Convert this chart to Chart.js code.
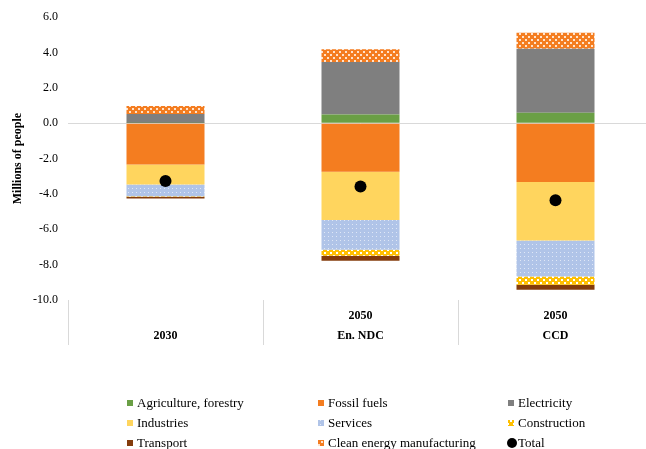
<!DOCTYPE html>
<html>
<head>
<meta charset="utf-8">
<script src="https://cdn.jsdelivr.net/npm/chart.js@4.4.1/dist/chart.umd.min.js"></script>
<style>
  html, body { margin: 0; padding: 0; background: #fff; overflow: hidden; }
</style>
</head>
<body>
<canvas id="chart" width="660" height="449"></canvas>
<script>
// categories (two-line labels, bottom aligned)
const categories = [["", "2030"], ["2050", "En. NDC"], ["2050", "CCD"]];

// millions of people per sector
const agriculture = [0.02, 0.5, 0.6];
const fossilFuels = [-2.33, -2.74, -3.33];
const electricity = [0.5, 2.97, 3.62];
const industries = [-1.14, -2.73, -3.31];
const services = [-0.66, -1.69, -2.03];
const construction = [-0.03, -0.34, -0.47];
const transport = [-0.1, -0.28, -0.28];
const cleanEnergy = [0.46, 0.72, 0.9];
const total = [-3.27, -3.58, -4.35];

const yMin = -10;
const yMax = 6;
const yStep = 2;

const serif = "'Liberation Serif', 'Times New Roman', serif";

// small tiled patterns like the excel fills
function makePattern(size, draw) {
  const c = document.createElement("canvas");
  c.width = size;
  c.height = size;
  const g = c.getContext("2d");
  draw(g);
  return g.createPattern(c, "repeat");
}

const servicesFill = makePattern(4, (g) => {
  g.fillStyle = "#B0C4E8";
  g.fillRect(0, 0, 4, 4);
  g.fillStyle = "rgba(255,255,255,0.6)";
  g.fillRect(0, 0, 1, 1);
});

const constructionFill = makePattern(6, (g) => {
  g.fillStyle = "#FFC000";
  g.fillRect(0, 0, 6, 6);
  g.fillStyle = "#fff";
  g.fillRect(0, 0, 2, 2);
  g.fillRect(3, 3, 2, 2);
});

const cleanFill = makePattern(6, (g) => {
  g.fillStyle = "#F47D20";
  g.fillRect(0, 0, 6, 6);
  g.fillStyle = "#FFE3CC";
  g.fillRect(0, 0, 2, 2);
  g.fillRect(3, 3, 2, 2);
});

function bar(label, data, color) {
  return { type: "bar", label, data, backgroundColor: color, borderWidth: 0 };
}

const datasets = [
  bar("Agriculture, forestry", agriculture, "#6A9F45"),
  bar("Fossil fuels", fossilFuels, "#F47D20"),
  bar("Electricity", electricity, "#7F7F7F"),
  bar("Industries", industries, "#FFD55E"),
  bar("Services", services, servicesFill),
  bar("Construction", construction, constructionFill),
  bar("Transport", transport, "#843C0C"),
  bar("Clean energy manufacturing", cleanEnergy, cleanFill),
  {
    type: "line",
    label: "Total",
    data: total,
    showLine: false,
    order: -1,
    pointRadius: 6,
    pointHoverRadius: 6,
    pointBackgroundColor: "#000",
    pointBorderColor: "#000",
    pointBorderWidth: 0,
  },
];

// legend in three fixed columns under the axis
const gridLegend = {
  id: "gridLegend",
  afterDraw(chart) {
    const ctx = chart.ctx;
    const colX = [137, 328, 518];
    const rowY = [403, 423, 443];
    ctx.save();
    ctx.font = "13px " + serif;
    ctx.textBaseline = "middle";
    ctx.fillStyle = "#000";
    chart.data.datasets.forEach((ds, i) => {
      const x = colX[i % 3];
      const y = rowY[Math.floor(i / 3)];
      if (ds.type === "line") {
        ctx.beginPath();
        ctx.arc(x - 6, y, 5, 0, Math.PI * 2);
        ctx.fillStyle = "#000";
        ctx.fill();
      } else {
        ctx.fillStyle = ds.backgroundColor;
        ctx.fillRect(x - 10, y - 3, 6, 6);
      }
      ctx.fillStyle = "#000";
      ctx.fillText(ds.label, x, y + 1);
    });
    ctx.restore();
  },
};

new Chart(document.getElementById("chart"), {
  data: { labels: categories, datasets },
  options: {
    responsive: false,
    animation: false,
    layout: { padding: { top: 17, right: 7, left: 0, bottom: 0 } },
    plugins: {
      legend: { display: false },
      tooltip: { enabled: false },
    },
    datasets: {
      bar: { categoryPercentage: 1, barPercentage: 0.4 },
    },
    scales: {
      x: {
        stacked: true,
        offset: true,
        border: { display: false },
        grid: {
          offset: true,
          drawOnChartArea: false,
          tickLength: 45,
          color: "#D9D9D9",
        },
        ticks: {
          autoSkip: false,
          maxRotation: 0,
          padding: -39,
          color: "#000",
          font: { family: serif, size: 12, weight: "bold", lineHeight: 1.65 },
        },
        afterFit(scale) {
          scale.height = 149;
        },
      },
      y: {
        stacked: true,
        min: yMin,
        max: yMax,
        border: { display: false },
        grid: {
          drawTicks: false,
          color: (c) => (c.tick && c.tick.value === 0 ? "#D9D9D9" : "rgba(0,0,0,0)"),
        },
        ticks: {
          stepSize: yStep,
          padding: 10,
          color: "#000",
          font: { family: serif, size: 12 },
          callback: (v) => v.toFixed(1),
        },
        title: {
          display: true,
          text: "Millions of people",
          color: "#000",
          padding: { top: 11, bottom: 0 },
          font: { family: serif, size: 12, weight: "bold" },
        },
        afterFit(scale) {
          scale.width = 68;
        },
      },
    },
  },
  plugins: [gridLegend],
});
</script>
</body>
</html>
